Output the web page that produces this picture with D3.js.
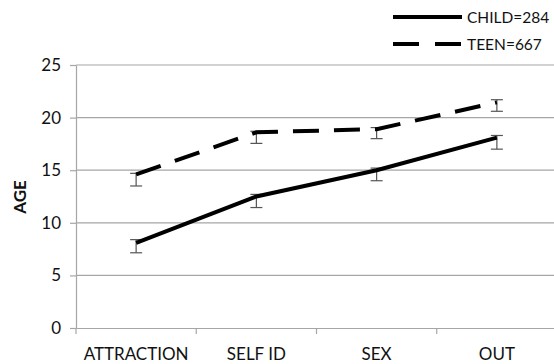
<!DOCTYPE html>
<html>
<head>
<meta charset="utf-8">
<script src="https://cdn.jsdelivr.net/npm/d3@7"></script>
<style>
  body { margin: 0; background: #fff; }
  svg { display: block; font-family: Lato, "Open Sans", sans-serif; }
</style>
</head>
<body>
<svg id="chart" width="554" height="364"></svg>
<script>
// categories and values
const categories = ['ATTRACTION', 'SELF ID', 'SEX', 'OUT'];
const yTicks = [0, 5, 10, 15, 20, 25];

const childValues = [8.1, 12.5, 15.0, 18.1];
const childLow = [7.15, 11.45, 14.0, 17.0];
const childHigh = [8.4, 12.7, 15.2, 18.3];

const teenValues = [14.6, 18.6, 18.9, 21.45];
const teenLow = [13.5, 17.55, 18.0, 20.6];
const teenHigh = [14.7, 18.7, 19.05, 21.7];

const legendLabels = ['CHILD=284', 'TEEN=667'];

let svg = d3.select('#chart');
let margin = {top: 65, left: 76, bottom: 328, right: 557};

let x = d3.scaleBand()
  .domain(categories)
  .range([margin.left, margin.right])
  .padding(0);

let y = d3.scaleLinear()
  .domain([0, 25])
  .range([margin.bottom, margin.top]);

let cx = d => x(d) + x.bandwidth() / 2;

// gridlines + y ticks
let yAxis = svg.append('g')
  .attr('transform', 'translate(' + margin.left + ',0)')
  .call(d3.axisLeft(y).tickValues(yTicks).tickSize(6).tickPadding(9)
    .tickSizeOuter(0));
yAxis.select('.domain').attr('stroke', '#a6a6a6').attr('stroke-width', 1.2);
yAxis.selectAll('.tick line').attr('stroke', '#a6a6a6').attr('stroke-width', 1.2);
yAxis.selectAll('.tick text')
  .attr('font-size', 17).attr('fill', '#111')
  .attr('font-family', 'Lato, sans-serif');

svg.append('g').selectAll('line')
  .data(yTicks.filter(t => t > 0))
  .join('line')
  .attr('x1', margin.left).attr('x2', 554)
  .attr('y1', d => y(d)).attr('y2', d => y(d))
  .attr('stroke', '#a6a6a6').attr('stroke-width', 1.2);

// x axis
let xAxis = svg.append('g')
  .attr('transform', 'translate(0,' + margin.bottom + ')')
  .call(d3.axisBottom(x).tickSize(0).tickPadding(0).tickSizeOuter(0));
xAxis.select('.domain').attr('stroke', '#a6a6a6').attr('stroke-width', 1.2);
xAxis.selectAll('.tick text').remove();

// category separators
svg.append('g').selectAll('line')
  .data(categories)
  .join('line')
  .attr('x1', d => x(d)).attr('x2', d => x(d))
  .attr('y1', margin.bottom).attr('y2', margin.bottom + 6)
  .attr('stroke', '#a6a6a6').attr('stroke-width', 1.2);

svg.append('g').selectAll('text')
  .data(categories)
  .join('text')
  .attr('x', d => cx(d))
  .attr('y', 360)
  .attr('text-anchor', 'middle')
  .attr('font-size', 17)
  .attr('fill', '#111')
  .text(d => d);

// axis title
svg.append('text')
  .attr('transform', 'translate(26,197) rotate(-90)')
  .attr('text-anchor', 'middle')
  .attr('font-size', 17)
  .attr('font-weight', 'bold')
  .attr('fill', '#111')
  .text('AGE');

// error bars
let drawErrors = function(low, high) {
  let g = svg.append('g').attr('stroke', '#555').attr('stroke-width', 1.2);
  categories.forEach(function(c, i) {
    g.append('line')
      .attr('x1', cx(c)).attr('x2', cx(c))
      .attr('y1', y(low[i])).attr('y2', y(high[i]));
    [low[i], high[i]].forEach(function(v) {
      g.append('line')
        .attr('x1', cx(c) - 6).attr('x2', cx(c) + 6)
        .attr('y1', y(v)).attr('y2', y(v));
    });
  });
};
drawErrors(childLow, childHigh);
drawErrors(teenLow, teenHigh);

let line = d3.line()
  .x((d, i) => cx(categories[i]))
  .y(d => y(d));

svg.append('path')
  .datum(childValues)
  .attr('d', line)
  .attr('fill', 'none')
  .attr('stroke', '#000')
  .attr('stroke-width', 4);

svg.append('path')
  .datum(teenValues)
  .attr('d', line)
  .attr('fill', 'none')
  .attr('stroke', '#000')
  .attr('stroke-width', 4)
  .attr('stroke-dasharray', '26,15');

// legend
let legend = svg.append('g');
legendLabels.forEach(function(label, i) {
  let ly = 17 + i * 27;
  legend.append('line')
    .attr('x1', 393).attr('x2', 462)
    .attr('y1', ly).attr('y2', ly)
    .attr('stroke', '#000').attr('stroke-width', 4)
    .attr('stroke-dasharray', i === 1 ? '26,16' : null);
  legend.append('text')
    .attr('x', 467).attr('y', ly + 6)
    .attr('font-size', 15.5)
    .attr('fill', '#111')
    .text(label);
});
</script>
</body>
</html>
